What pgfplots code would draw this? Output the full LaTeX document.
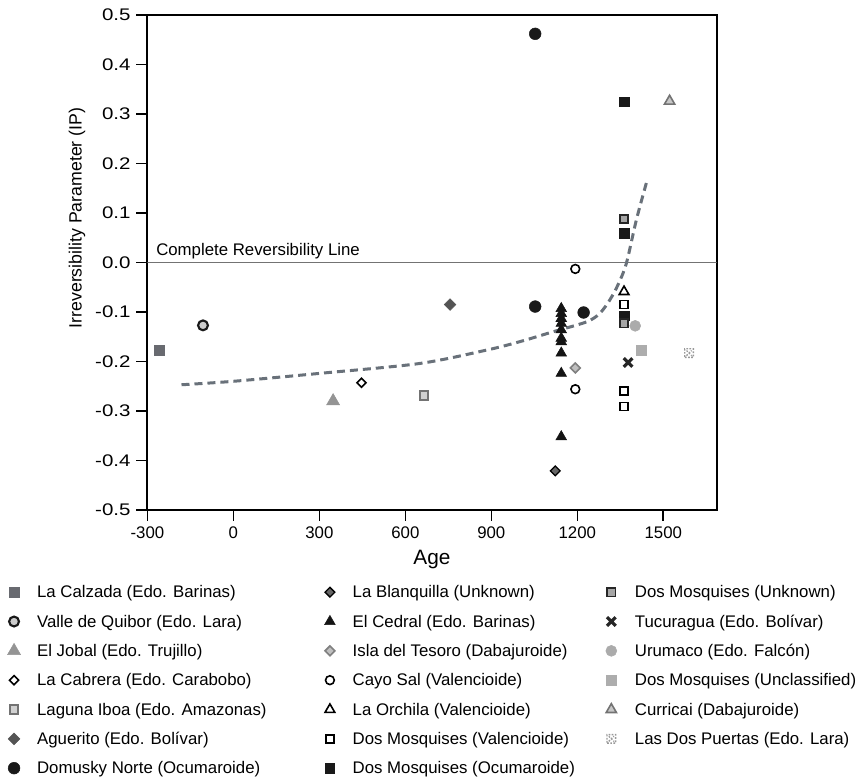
\documentclass[border=0pt]{standalone}
\usepackage{fontspec}
\setmainfont{Liberation Sans}
\usepackage{graphicx}
\usepackage{pgfplots}
\pgfplotsset{compat=1.18}
\usetikzlibrary{plotmarks}
\pgfdeclareplotmark{boxx}{%
  \pgfpathrectangle{\pgfqpoint{-\pgfplotmarksize}{-\pgfplotmarksize}}{\pgfqpoint{2\pgfplotmarksize}{2\pgfplotmarksize}}%
  \pgfpathmoveto{\pgfqpoint{-0.6\pgfplotmarksize}{-0.6\pgfplotmarksize}}\pgfpathlineto{\pgfqpoint{0.6\pgfplotmarksize}{0.6\pgfplotmarksize}}%
  \pgfpathmoveto{\pgfqpoint{-0.6\pgfplotmarksize}{0.6\pgfplotmarksize}}\pgfpathlineto{\pgfqpoint{0.6\pgfplotmarksize}{-0.6\pgfplotmarksize}}%
  \pgfusepathqstroke}
\definecolor{cCalz}{RGB}{104,106,112}
\definecolor{cCurve}{RGB}{105,113,122}
\newcommand{\fa}{\makebox[213pt][l]}
\newcommand{\fb}{\makebox[186.75pt][l]}
\newcommand{\tfont}{\fontsize{12.6}{15}\selectfont}
\newcommand{\lfont}{\fontsize{13.3}{16}\selectfont}
\newcommand{\afont}{\fontsize{15.6}{18}\selectfont}
\begin{document}
\tfont
\begin{tikzpicture}
\useasboundingbox (0,0) rectangle (645pt,582.75pt);
\begin{axis}[
  at={(110.55pt,200.25pt)}, anchor=south west,
  scale only axis, width=426.9pt, height=371.25pt,
  xmin=-300, xmax=1686, ymin=-0.5, ymax=0.5,
  xtick={-300,0,300,600,900,1200,1500},
  ytick={-0.5,-0.4,-0.3,-0.2,-0.1,0,0.1,0.2,0.3,0.4,0.5},
  /pgf/number format/assume math mode=true,
  /pgf/number format/1000 sep={},
  yticklabel={\scalebox{1.22}[1]{\pgfmathprintnumber[fixed,fixed zerofill,precision=1]{\tick}}},
  xticklabel style={font=\tfont},
  yticklabel style={font=\tfont},
  tick align=outside, major tick length=8.25pt,
  xtick pos=bottom, ytick pos=left,
  axis line style={line width=1.5pt},
  every tick/.style={line width=1.2pt, black},
  xlabel={Age},
  xlabel style={font=\afont, at={(axis description cs:0.5,0)}, anchor=base, yshift=-41.25pt},
  ylabel={Irreversibility Parameter (IP)},
  ylabel style={font=\lfont, at={(axis description cs:-0.1237,0.59)}, anchor=center},
  legend columns=7, transpose legend,
  legend style={draw=none, fill=none, at={(-0.2502,-0.148)}, anchor=north west,
    column sep=0pt, row sep=0pt, inner sep=0pt, outer sep=0pt,
    nodes={inner sep=0pt, text height=11pt, text depth=11pt},
    font=\tfont},
  legend cell align=left,
  legend image code/.code={\path (-6pt,0pt) (16.5pt,0pt); \draw[mark repeat=2,mark phase=2,#1] plot coordinates {(-6pt,4.3pt)(0pt,4.3pt)(6pt,4.3pt)};},
]
% zero line
\addplot[forget plot, color=black!55, line width=1pt] coordinates {(-300,0) (1686,0)};
% trend curve
\addplot[forget plot, smooth, tension=0.5, color=cCurve, line width=2.25pt, dash pattern=on 6pt off 3.75pt] coordinates {
(-181,-0.247) (0,-0.240) (301,-0.224) (650,-0.204) (883,-0.177) (999,-0.160) (1115,-0.140) (1232,-0.120) (1278,-0.103) (1313,-0.076) (1342,-0.045) (1371,-0.002) (1406,0.086) (1443,0.165)};
% 1 La Calzada
\addplot[only marks, mark=square*, mark size=3.6pt, draw=cCalz, fill=cCalz] coordinates {(-259,-0.177)};
\addlegendentry{\fa{La Calzada (Edo. Barinas)}}
% 2 Valle de Quibor
\addplot[only marks, mark=*, mark size=3.7pt, draw=black!90, fill=black!20, line width=1.6pt] coordinates {(-106,-0.127)};
\addlegendentry{\fa{Valle de Quibor (Edo. Lara)}}
% 3 El Jobal
\addplot[only marks, mark=triangle*, mark size=5.6pt, draw=black!42, fill=black!42] coordinates {(348,-0.280)};
\addlegendentry{\fa{El Jobal (Edo. Trujillo)}}
% 4 La Cabrera
\addplot[only marks, mark=square*, mark options={rotate=45}, mark size=2.4pt, draw=black, fill=white, line width=1.2pt] coordinates {(447,-0.243)};
\addlegendentry{\fa{La Cabrera (Edo. Carabobo)}}
% 5 Laguna Iboa
\addplot[only marks, mark=square*, mark size=3.3pt, draw=black!55, fill=black!18, line width=1.5pt] coordinates {(665,-0.268)};
\addlegendentry{\fa{Laguna Iboa (Edo. Amazonas)}}
% 6 Aguerito
\addplot[only marks, mark=square*, mark options={rotate=45}, mark size=3.1pt, draw=black!67, fill=black!67] coordinates {(756,-0.085)};
\addlegendentry{\fa{Aguerito (Edo. Bolívar)}}
% 7 Domusky Norte
\addplot[only marks, mark=*, mark size=4.4pt, draw=black!90, fill=black!90] coordinates {(1053,0.462) (1053,-0.089) (1222,-0.101)};
\addlegendentry{\fa{Domusky Norte (Ocumaroide)}}
% 8 La Blanquilla
\addplot[only marks, mark=square*, mark options={rotate=45}, mark size=2.6pt, draw=black, fill=black!60, line width=1pt] coordinates {(1123,-0.421)};
\addlegendentry{\fb{La Blanquilla (Unknown)}}
% 9 El Cedral
\addplot[only marks, mark=triangle*, mark size=4.6pt, draw=black!92, fill=black!92] coordinates {
(1144,-0.093) (1144,-0.103) (1144,-0.113) (1144,-0.123) (1144,-0.136) (1144,-0.153) (1144,-0.160) (1144,-0.183) (1144,-0.224) (1144,-0.352)};
\addlegendentry{\fb{El Cedral (Edo. Barinas)}}
% 10 Isla del Tesoro
\addplot[only marks, mark=square*, mark options={rotate=45}, mark size=2.6pt, draw=black!50, fill=black!25, line width=1.2pt] coordinates {(1193,-0.213)};
\addlegendentry{\fb{Isla del Tesoro (Dabajuroide)}}
% 11 Cayo Sal
\addplot[only marks, mark=*, mark size=3.3pt, draw=black, fill=white, line width=1.2pt] coordinates {(1193,-0.013) (1193,-0.256)};
\addlegendentry{\fb{Cayo Sal (Valencioide)}}
% 12 La Orchila
\addplot[only marks, mark=triangle*, mark size=4.2pt, draw=black, fill=white, line width=1.2pt] coordinates {(1363,-0.059)};
\addlegendentry{\fb{La Orchila (Valencioide)}}
% 13 Dos Mosquises (Valencioide)
\addplot[only marks, mark=square*, mark size=3pt, draw=black, fill=white, line width=1.2pt] coordinates {(1363,-0.085) (1363,-0.260) (1363,-0.291)};
\addlegendentry{\fb{Dos Mosquises (Valencioide)}}
% 14 Dos Mosquises (Ocumaroide)
\addplot[only marks, mark=square*, mark size=3.6pt, draw=black!90, fill=black!90] coordinates {(1363,0.325) (1363,0.059) (1363,-0.108)};
\addlegendentry{\fb{Dos Mosquises (Ocumaroide)}}
% 15 Dos Mosquises (Unknown)
\addplot[only marks, mark=square*, mark size=3.1pt, draw=black!85, fill=black!35, line width=1.2pt] coordinates {(1363,0.088) (1363,-0.123)};
\addlegendentry{Dos Mosquises (Unknown)}
% 16 Tucuragua
\addplot[only marks, mark=x, mark size=4.6pt, draw=black!85, line width=2.4pt] coordinates {(1377,-0.202)};
\addlegendentry{Tucuragua (Edo. Bolívar)}
% 17 Urumaco
\addplot[only marks, mark=*, mark size=4.1pt, draw=black!33, fill=black!33] coordinates {(1402,-0.128)};
\addlegendentry{Urumaco (Edo. Falcón)}
% 18 Dos Mosquises (Unclassified)
\addplot[only marks, mark=square*, mark size=3.7pt, draw=black!32, fill=black!32] coordinates {(1423,-0.178)};
\addlegendentry{Dos Mosquises (Unclassified)}
% 19 Curricai
\addplot[only marks, mark=triangle*, mark size=4.4pt, draw=black!55, fill=black!22, line width=1.2pt] coordinates {(1522,0.326)};
\addlegendentry{Curricai (Dabajuroide)}
% 20 Las Dos Puertas
\addplot[only marks, mark=boxx, mark size=3.2pt, draw=black!40, line width=1pt, dash pattern=on 1.3pt off 1.1pt] coordinates {(1590,-0.183)};
\addlegendentry{Las Dos Puertas (Edo. Lara)}
\node[anchor=base west, inner sep=0pt, font=\tfont] at (axis cs:-300,0) [xshift=6.45pt, yshift=5.25pt] {Complete Reversibility Line};
\end{axis}
\end{tikzpicture}
\end{document}
